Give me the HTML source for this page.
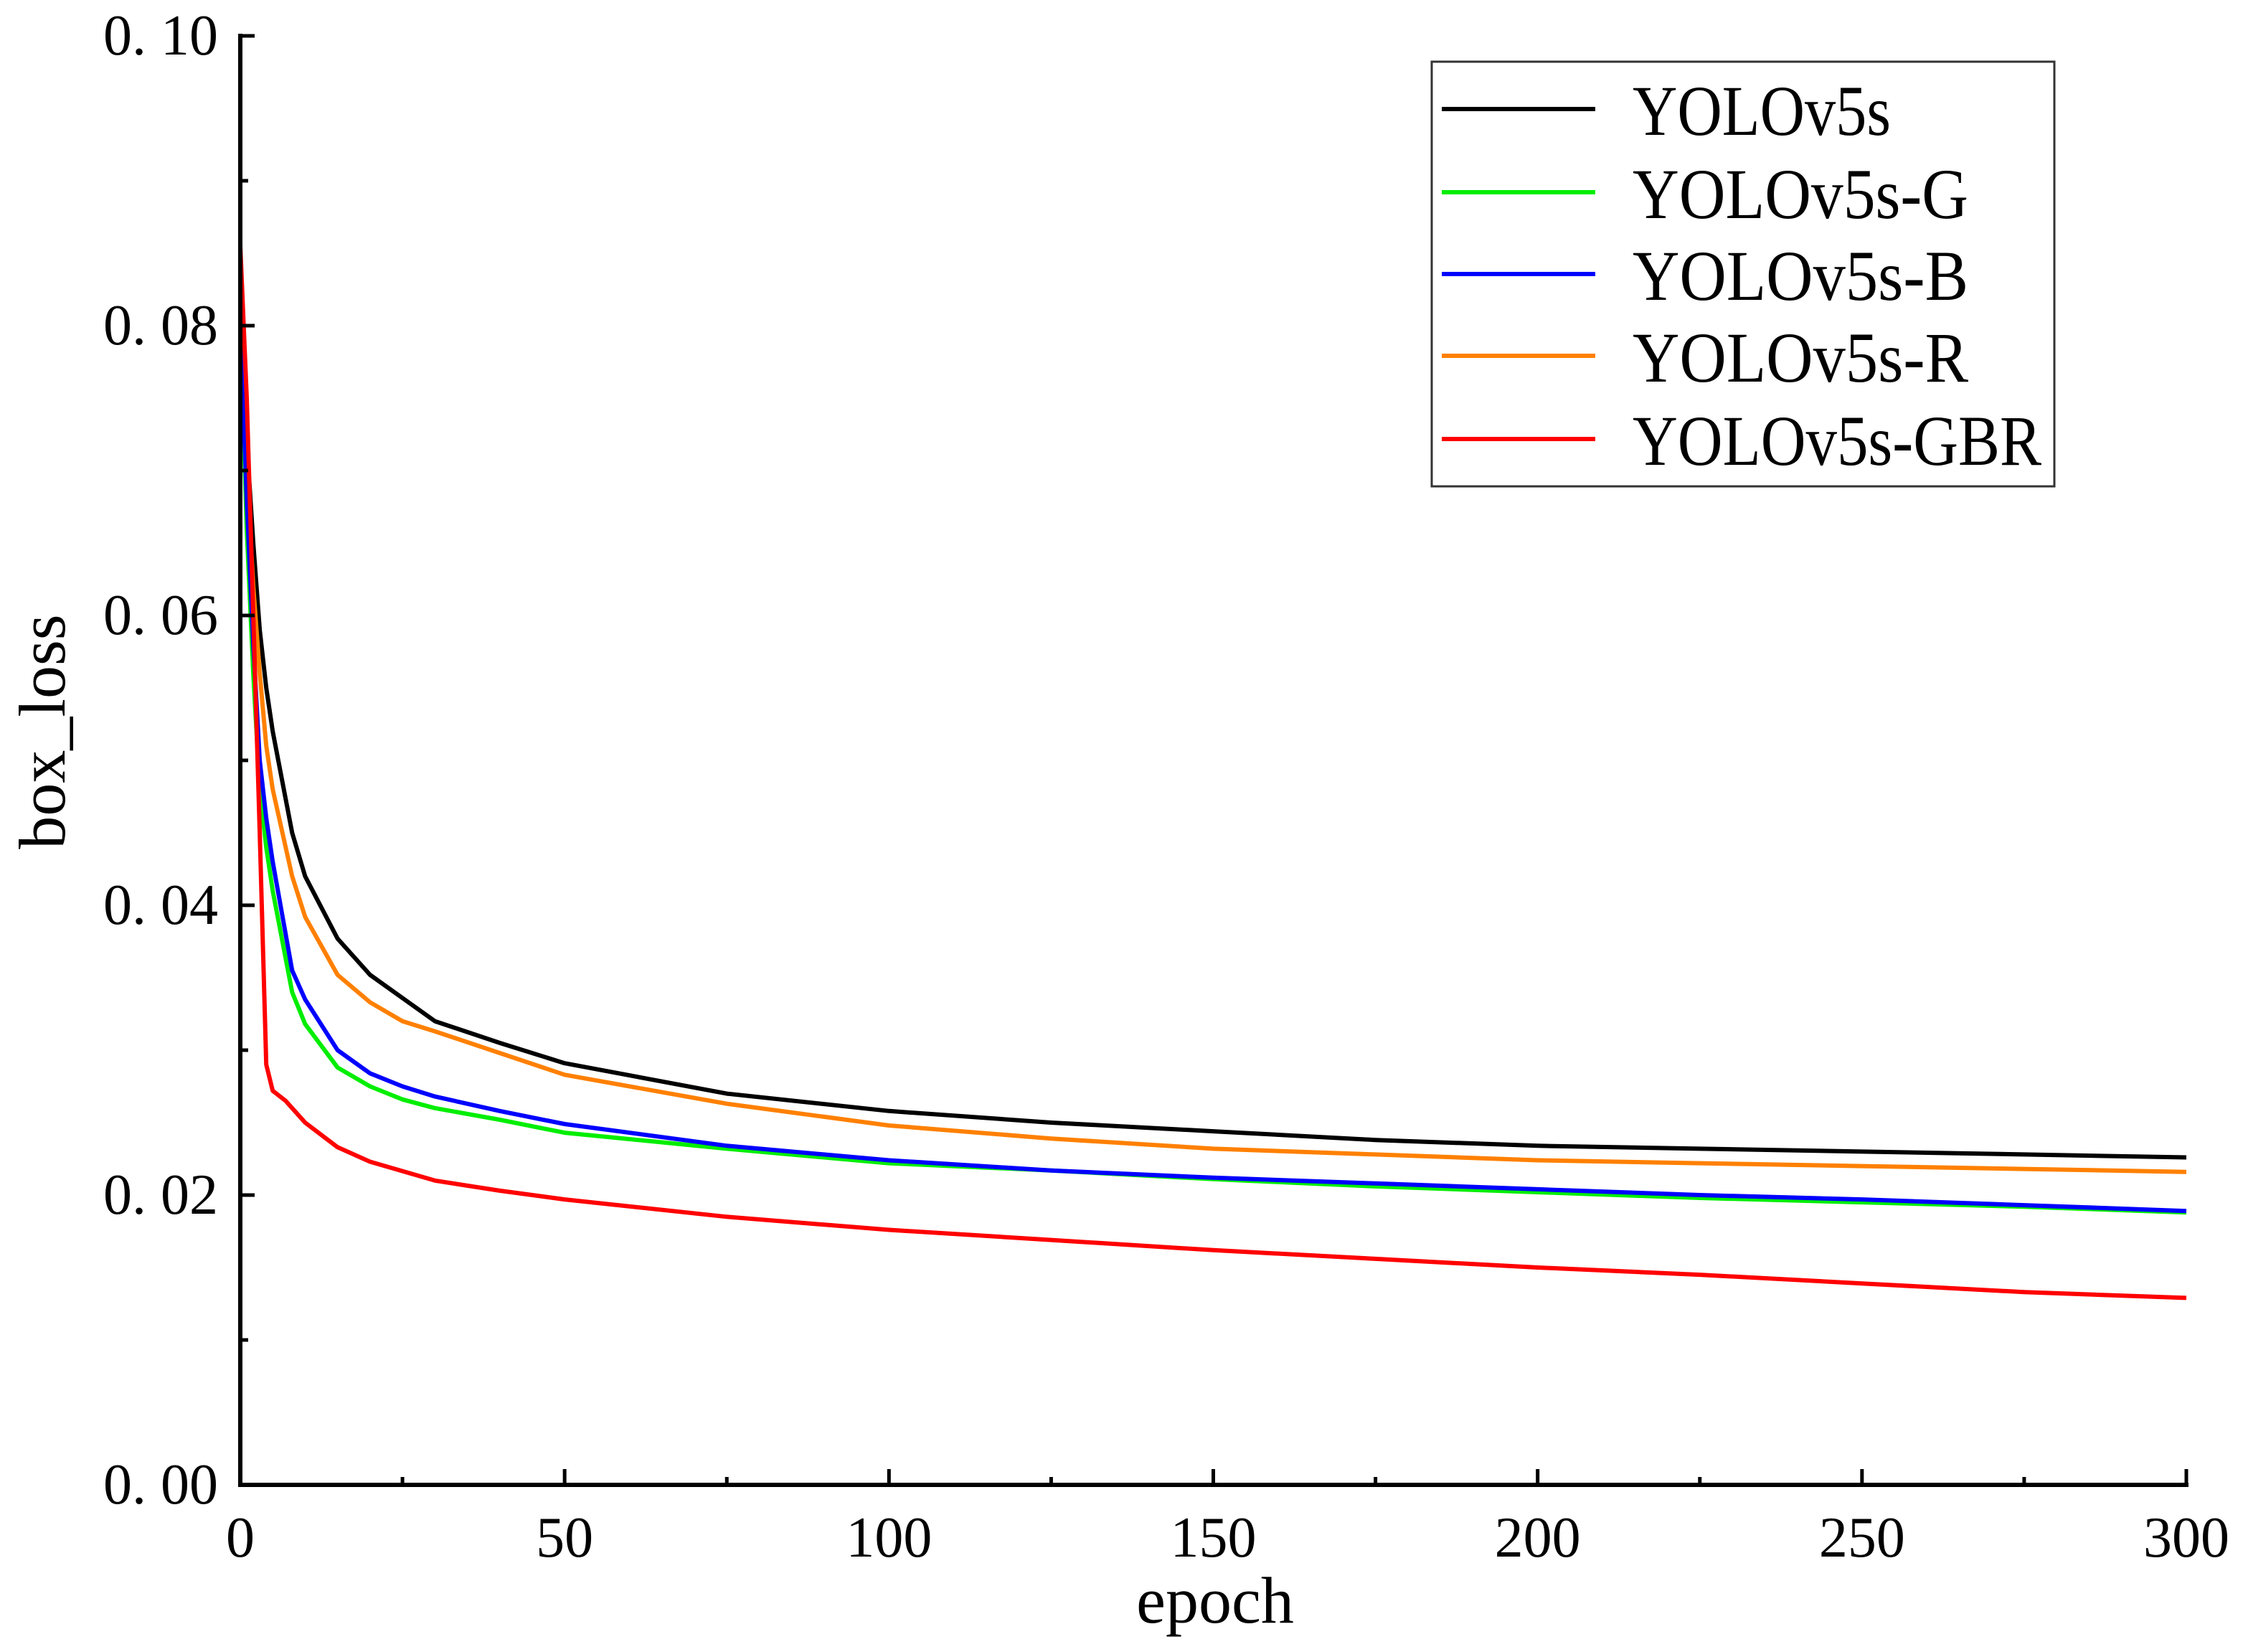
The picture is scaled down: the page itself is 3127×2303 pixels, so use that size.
<!DOCTYPE html>
<html><head><meta charset="utf-8"><style>
html,body{margin:0;padding:0;background:#fff;}
svg{display:block;}
text{font-family:"Liberation Serif","Noto Serif CJK SC",serif;fill:#000;}
</style></head><body>
<svg id="chart" width="3127" height="2303" viewBox="0 0 3127 2303" xmlns="http://www.w3.org/2000/svg">
<rect width="3127" height="2303" fill="#fff"/>
<g id="series"></g>
<g id="axes"></g>
<g id="legend"></g>
</svg>
<script>
const epochs = [0,1,2,3,4,5,8,10,15,20,25,30,40,50,75,100,125,150,175,200,225,250,275,300];
const black  = [0.080,0.072,0.065,0.059,0.055,0.052,0.045,0.042,0.0377,0.0352,0.0336,0.032,0.0305,0.0291,0.027,0.0258,0.025,0.0244,0.0238,0.0234,0.0232,0.023,0.0228,0.0226];
const orange = [0.080,0.070,0.062,0.056,0.051,0.048,0.042,0.0392,0.0352,0.0333,0.032,0.0313,0.0298,0.0283,0.0263,0.0248,0.0239,0.0232,0.0228,0.0224,0.0222,0.022,0.0218,0.0216];
const blue   = [0.080,0.068,0.058,0.050,0.046,0.043,0.0355,0.0335,0.0300,0.0284,0.0275,0.0268,0.0258,0.0249,0.0234,0.0224,0.0217,0.0212,0.0208,0.0204,0.020,0.0197,0.0193,0.0189];
const green  = [0.080,0.066,0.056,0.048,0.044,0.041,0.0340,0.0318,0.0288,0.0275,0.0266,0.026,0.0252,0.0243,0.0232,0.0222,0.0217,0.0211,0.0206,0.0202,0.0198,0.0195,0.0192,0.0188];
const redEpochs = [0,1,2,3,4,5,7,10,15,20,30,40,50,75,100,125,150,175,200,225,250,275,300];
const red    = [0.0855,0.075,0.060,0.045,0.029,0.0272,0.0265,0.025,0.0233,0.0223,0.021,0.0203,0.0197,0.0185,0.0176,0.0169,0.0162,0.0156,0.0150,0.0145,0.0139,0.0133,0.0129];
const yTicks = [0,0.02,0.04,0.06,0.08,0.10];
const yTickLabels = ["0. 00","0. 02","0. 04","0. 06","0. 08","0. 10"];
const xTicks = [0,50,100,150,200,250,300];
const legendNames = ["YOLOv5s","YOLOv5s-G","YOLOv5s-B","YOLOv5s-R","YOLOv5s-GBR"];
const legendColors = ["#000000","#00ee00","#0000ff","#ff8000","#ff0000"];

const X0=335, X1=3048, Y0=2070, Y1=50;
function xs(e){return X0+(e/300)*(X1-X0);}
function ys(v){return Y0-(v/0.10)*(Y0-Y1);}
const NS="http://www.w3.org/2000/svg";
function mk(tag,attrs,parent){const el=document.createElementNS(NS,tag);for(const k in attrs)el.setAttribute(k,attrs[k]);parent.appendChild(el);return el;}

const sg=document.getElementById('series');
const seriesList=[[epochs,black,"#000000","series-yolov5s"],[epochs,orange,"#ff8000","series-yolov5s-r"],[epochs,blue,"#0000ff","series-yolov5s-b"],[epochs,green,"#00ee00","series-yolov5s-g"],[redEpochs,red,"#ff0000","series-yolov5s-gbr"]];
[0,1,3,2,4].forEach(i=>{
  const s=seriesList[i];
  const pts=s[0].map((e,j)=>xs(e).toFixed(1)+","+ys(s[1][j]).toFixed(1)).join(" ");
  const pl=mk('polyline',{points:pts,fill:"none",stroke:s[2],"stroke-width":6,"stroke-linejoin":"round"},sg);
  
  
});

const ag=document.getElementById('axes');
const yAxis=mk('line',{x1:X0,y1:Y1-3,x2:X0,y2:Y0+3,stroke:"#000","stroke-width":6},ag);


const xAxis=mk('line',{x1:X0-3,y1:Y0,x2:X1+3,y2:Y0,stroke:"#000","stroke-width":6},ag);


for(let v=0;v<=0.1001;v+=0.01){
  const major=Math.round(v*100)%2===0;
  mk('line',{x1:X0,y1:ys(v),x2:X0+(major?20:11),y2:ys(v),stroke:"#000","stroke-width":5},ag);
}
for(let e=0;e<=300;e+=25){
  const major=e%50===0;
  mk('line',{x1:xs(e),y1:Y0,x2:xs(e),y2:Y0-(major?22:11),stroke:"#000","stroke-width":5},ag);
}
yTicks.forEach((v,i)=>{
  const t=mk('text',{x:304,y:ys(v)+26,"font-size":80,"text-anchor":"end"},ag);
  t.textContent=yTickLabels[i];
  
  
});
xTicks.forEach(e=>{
  const t=mk('text',{x:xs(e),y:2170,"font-size":80,"text-anchor":"middle"},ag);
  t.textContent=String(e);
  
  
});
const xt=mk('text',{x:1694,y:2262,"font-size":92,"text-anchor":"middle"},ag);
xt.textContent="epoch";


const yt=mk('text',{x:0,y:0,"font-size":92,"text-anchor":"middle",transform:"translate(90,1020) rotate(-90)"},ag);
yt.textContent="box_loss";



const lg=document.getElementById('legend');
const box=mk('rect',{x:1996,y:86,width:868,height:592,fill:"#fff",stroke:"#333","stroke-width":3},lg);


const rowY=[152,268,382,496,612];
legendNames.forEach((n,i)=>{
  const l=mk('line',{x1:2010,y1:rowY[i],x2:2224,y2:rowY[i],stroke:legendColors[i],"stroke-width":6},lg);
  
  
  const t=mk('text',{x:2276,y:rowY[i]+36,"font-size":100,textLength:[360,468,468,468,570][i],lengthAdjust:"spacingAndGlyphs"},lg);
  t.textContent=n;
  
  
});
</script>
</body></html>
